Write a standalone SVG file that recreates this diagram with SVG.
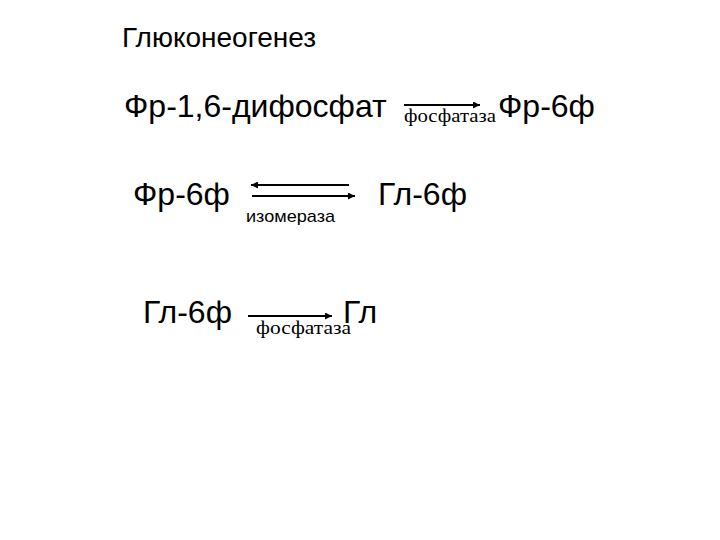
<svg xmlns="http://www.w3.org/2000/svg" width="720" height="540" viewBox="0 0 720 540">
<defs>
<marker id="ah" viewBox="0 0 10 10" refX="10" refY="5" markerWidth="8" markerHeight="7" markerUnits="userSpaceOnUse" orient="auto"><path d="M0,0 L10,5 L0,10 z" fill="#000"/></marker>
</defs>
<style>
.big{font-family:"Liberation Sans",Arial,sans-serif;font-size:32px;fill:#000}
.title{font-family:"Liberation Sans",Arial,sans-serif;font-size:28px;fill:#000}
.ser{font-family:"Liberation Serif","Times New Roman",serif;font-size:19px;fill:#000}
.san{font-family:"Liberation Sans",Arial,sans-serif;font-size:17px;fill:#000}
.arr{stroke:#000;stroke-width:2;fill:none;marker-end:url(#ah)}
</style>
<rect width="720" height="540" fill="#fff"/>
<text class="title" x="122" y="47">Глюконеогенез</text>
<g id="fr16dp"><text class="big" x="124" y="117">Фр-1,6-дифосфат</text></g>
<g id="fr6f-a"><text class="big" x="498" y="117">Фр-6ф</text></g>
<g id="fr6f-b"><text class="big" x="133" y="205">Фр-6ф</text></g>
<g id="gl6f-a"><text class="big" x="378" y="205">Гл-6ф</text></g>
<g id="gl6f-b"><text class="big" x="143" y="323">Гл-6ф</text></g>
<g id="gl"><text class="big" x="343" y="323">Гл</text></g>
<g id="connectors">
<line class="arr" x1="404" y1="105" x2="480" y2="105"/>
<text class="ser" x="404" y="122" textLength="92" lengthAdjust="spacingAndGlyphs">фосфатаза</text>
<line class="arr" x1="349" y1="185" x2="251" y2="185"/>
<line class="arr" x1="252" y1="196" x2="355" y2="196"/>
<text class="san" x="246" y="222" textLength="89" lengthAdjust="spacingAndGlyphs">изомераза</text>
<line class="arr" x1="248" y1="316" x2="332" y2="316"/>
<text class="ser" x="256" y="334" textLength="95" lengthAdjust="spacingAndGlyphs">фосфатаза</text>
</g>
</svg>
